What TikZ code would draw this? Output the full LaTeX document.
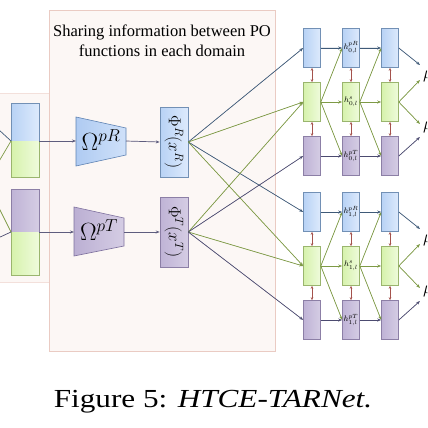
\documentclass[tikz,border=0pt]{standalone}
\usepackage{fontspec}
\setmainfont{Liberation Serif}
\usetikzlibrary{arrows.meta}
\definecolor{bgfill}{HTML}{FCF7F5}
\definecolor{bgline}{HTML}{EACBC3}
\definecolor{blueA}{HTML}{B8D2F5}
\definecolor{blueB}{HTML}{DDEAFC}
\definecolor{blueL}{HTML}{7290B5}
\definecolor{greenA}{HTML}{D6F2AC}
\definecolor{greenB}{HTML}{EFFBDC}
\definecolor{greenL}{HTML}{9AB56E}
\definecolor{purpA}{HTML}{BFB3D6}
\definecolor{purpB}{HTML}{D5CDE4}
\definecolor{purpL}{HTML}{8C7FA6}
\definecolor{cBlue}{HTML}{3F5A78}
\definecolor{cGreen}{HTML}{7E9A46}
\definecolor{cPurp}{HTML}{4C4B70}
\definecolor{cRed}{HTML}{A4524C}
\definecolor{trapB}{HTML}{AFCBF2}
\definecolor{trapBL}{HTML}{5F83B3}
\definecolor{trapP}{HTML}{BBAFD3}
\definecolor{trapPL}{HTML}{7F729F}
\tikzset{
  cell/.style={draw, line width=0.6pt, minimum width=17pt, minimum height=39pt, inner sep=0pt, font=\fontsize{8}{8}\selectfont},
  bcell/.style={cell, draw=blueL, left color=blueA, right color=blueB},
  gcell/.style={cell, draw=greenL, left color=greenA, right color=greenB},
  pcell/.style={cell, draw=purpL, left color=purpA, right color=purpB},
  tip/.style={-{Stealth[length=4pt,width=3pt]}},
  ab/.style={tip, draw=cBlue, fill=cBlue, line width=0.7pt},
  ag/.style={tip, draw=cGreen, fill=cGreen, line width=0.7pt},
  ap/.style={tip, draw=cPurp, fill=cPurp, line width=0.7pt},
  am/.style={tip, draw=cPurp!90, fill=cPurp!90, line width=0.7pt},
  vv/.style={{Stealth[length=3pt,width=2.5pt]}-{Stealth[length=3pt,width=2.5pt]}, draw=cRed, fill=cRed, line width=0.5pt},
  lb/.style={draw=cBlue, line width=0.7pt},
  lg/.style={draw=cGreen, line width=0.7pt},
  lp/.style={draw=cPurp, line width=0.7pt},
}
\begin{document}
\begin{tikzpicture}[x=1pt,y=-1pt]
\useasboundingbox (0,0) rectangle (428,428);
\begin{scope}
\clip (0,0) rectangle (428,428);
% backgrounds
\fill[bgfill] (0,93) rectangle (49,282);
\draw[bgline!60, line width=0.5pt] (0,93) -- (49,93) (0,282) -- (49,282);
\draw[bgline, fill=bgfill, line width=0.7pt] (49,10) rectangle (275,351);
\node[font=\fontsize{16.5}{20}\selectfont, align=center] (title) at (162,41)
  {Sharing information between PO\\functions in each domain};

% left blocks
\fill[left color=blueA, right color=blueB] (11,103) rectangle (39,141);
\fill[left color=greenA, right color=greenB] (11,141) rectangle (39,177);
\draw[blueL, line width=0.6pt] (11,141) -- (11,103) -- (39,103) -- (39,141);
\draw[greenL, line width=0.6pt] (11,141) -- (11,177) -- (39,177) -- (39,141);
\fill[left color=purpA, right color=purpB] (11,189) rectangle (39,232);
\fill[left color=greenA, right color=greenB] (11,232) rectangle (39,275);
\draw[purpL, line width=0.6pt] (11,232) -- (11,189) -- (39,189) -- (39,232);
\draw[greenL, line width=0.6pt] (11,232) -- (11,275) -- (39,275) -- (39,232);
\coordinate (inR) at (11,141);
\coordinate (outR) at (39,141);
\coordinate (inT) at (11,232);
\coordinate (outT) at (39,232);
\coordinate (e1) at (-2,129);
\coordinate (e2) at (-2,163);
\coordinate (e3) at (-2,206);
\coordinate (e4) at (-2,238);
\draw[lb] (e1) -- (inR);
\draw[lg] (e2) -- (inR);
\draw[lg] (e3) -- (inT);
\draw[lp] (e4) -- (inT);

% trapezoids
\draw[trapBL, left color=trapB, right color=blueB!70!trapB, line width=0.6pt]
  (76,117) -- (126,128) -- (126,155) -- (76,166) -- cycle;
\node[font=\fontsize{23}{23}\selectfont] (omR) at (101,140) {$\Omega^{pR}$};
\coordinate (omRin) at (76,141);
\coordinate (omRout) at (126,141);
\draw[trapPL, left color=trapP, right color=purpB, line width=0.6pt]
  (74,207) -- (124,218) -- (124,246) -- (74,256) -- cycle;
\node[font=\fontsize{23}{23}\selectfont] (omT) at (99,230) {$\Omega^{pT}$};
\coordinate (omTin) at (74,232);
\coordinate (omTout) at (124,232);

% Phi boxes
\node[draw=blueL, left color=blueA, right color=blueB, line width=0.6pt, minimum width=28pt, minimum height=70pt, inner sep=0pt] (phiR) at (174,142) {};
\node[rotate=-90, font=\fontsize{17}{17}\selectfont] (phiRt) at (phiR.center) {$\Phi^R(x^R)$};
\node[draw=purpL, left color=purpA, right color=purpB, line width=0.6pt, minimum width=28pt, minimum height=70pt, inner sep=0pt] (phiT) at (174,232) {};
\node[rotate=-90, font=\fontsize{17}{17}\selectfont] (phiTt) at (phiT.center) {$\Phi^T(x^T)$};

\draw[am] (outR) -- (omRin);
\draw[am] (omRout) -- (phiR.west);
\draw[am] (outT) -- (omTin);
\draw[am] (omTout) -- (phiT.west);

% groups
\foreach \g/\dy in {0/0, 1/164} {
  \node[bcell] (a\g1) at (312,48+\dy) {};
  \node[bcell] (a\g2) at (351,48+\dy) {$h^{pR}_{\g,l}$};
  \node[bcell] (a\g3) at (390,48+\dy) {};
  \node[gcell] (b\g1) at (312,102+\dy) {};
  \node[gcell] (b\g2) at (351,102+\dy) {$h^{s}_{\g,l}$};
  \node[gcell] (b\g3) at (390,102+\dy) {};
  \node[pcell] (c\g1) at (312,156+\dy) {};
  \node[pcell] (c\g2) at (351,156+\dy) {$h^{pT}_{\g,l}$};
  \node[pcell] (c\g3) at (390,156+\dy) {};
  \foreach \k in {1,2,3} {
    \draw[vv] (a\g\k.south) -- (b\g\k.north);
    \draw[vv] (b\g\k.south) -- (c\g\k.north);
  }
  \draw[ab] (a\g1.east) -- (a\g2.west);
  \draw[ab] (a\g2.east) -- (a\g3.west);
  \draw[ag] (b\g1.east) -- (b\g2.west);
  \draw[ag] (b\g2.east) -- (b\g3.west);
  \draw[ap] (c\g1.east) -- (c\g2.west);
  \draw[ap] (c\g2.east) -- (c\g3.west);
  \draw[ag] (b\g1.east) -- (a\g2.west);
  \draw[ag] (b\g1.east) -- (c\g2.west);
  \draw[ag] (b\g2.east) -- (a\g3.west);
  \draw[ag] (b\g2.east) -- (c\g3.west);
  \coordinate (o\g1) at (420,65+\dy);
  \coordinate (o\g2) at (420,80+\dy);
  \coordinate (o\g3) at (420,124+\dy);
  \coordinate (o\g4) at (420,137+\dy);
  \draw[ab] (a\g3.east) -- (o\g1);
  \draw[ag] (b\g3.east) -- (o\g2);
  \draw[ag] (b\g3.east) -- (o\g3);
  \draw[ap] (c\g3.east) -- (o\g4);
  \node[anchor=west, inner sep=0pt, font=\fontsize{17}{17}\selectfont] (y\g a) at (423,76+\dy) {$\mu$};
  \node[anchor=west, inner sep=0pt, font=\fontsize{17}{17}\selectfont] (y\g b) at (423,127+\dy) {$\mu$};
}

% connections from Phi boxes
\draw[ab] (phiR.east) -- (a01.west);
\draw[ag] (phiR.east) -- (b01.west);
\draw[ab] (phiR.east) -- (a11.west);
\draw[ag] (phiR.east) -- (b11.west);
\draw[ag] (phiT.east) -- (b01.west);
\draw[ap] (phiT.east) -- (c01.west);
\draw[ag] (phiT.east) -- (b11.west);
\draw[ap] (phiT.east) -- (c11.west);
\end{scope}

% caption
\node[font=\fontsize{26}{26}\selectfont, xscale=1.2] (cap) at (213,402) {Figure 5: \textit{HTCE-TARNet.}};
\end{tikzpicture}
\end{document}
